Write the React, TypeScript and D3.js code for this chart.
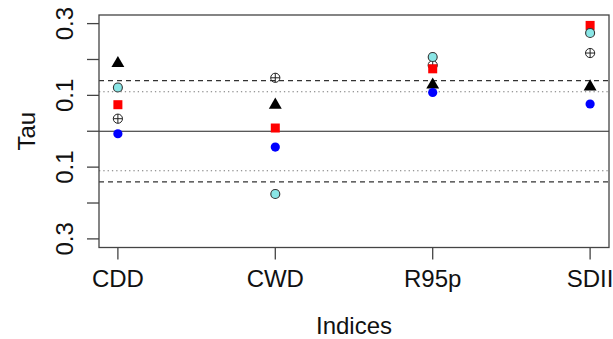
import React from "react";
import * as d3 from "d3";

const categories = ["CDD", "CWD", "R95p", "SDII"];
// series values (Tau) per category
const blueSeries = [-0.007, -0.044, 0.108, 0.076];
const cyanSeries = [0.122, -0.175, 0.207, 0.274];
const redSeries = [0.074, 0.009, 0.174, 0.295];
const crossSeries = [0.035, 0.149, 0.184, 0.218];
const triangleSeries = [0.192, 0.076, 0.132, 0.127];

const yTicks = [-0.3, -0.2, -0.1, 0, 0.1, 0.2, 0.3];
const yLabelTicks = [-0.3, -0.1, 0.1, 0.3];
const dashedLevels = [0.141, -0.141];
const dottedLevels = [0.11, -0.11];

const W = 613;
const H = 339;
const L = 99, R = 609, T = 15, B = 247.5;
const FONT = "'Liberation Sans', Arial, Helvetica, sans-serif";
const FS = 24;

export default function App() {
  const x = d3.scaleLinear().domain([0.88, 4.12]).range([L, R]);
  const y = d3.scaleLinear().domain([-0.324, 0.324]).range([B, T]);
  const tri = d3.symbol().type(d3.symbolTriangle).size(72)();
  const fmt = (v: number) => Math.abs(v).toFixed(1);

  return (
    <svg width={W} height={H} style={{ position: "absolute", left: 0, top: 0, background: "#ffffff" }}>
      <rect x={0} y={0} width={W} height={H} fill="#ffffff" />
      {/* reference lines */}
      <line x1={L} x2={R} y1={y(0)} y2={y(0)} stroke="#222" strokeWidth={1.2} />
      {dashedLevels.map((v, i) => (
        <line key={"d" + i} x1={L} x2={R} y1={y(v)} y2={y(v)} stroke="#333" strokeWidth={1.2} strokeDasharray="5,4" />
      ))}
      {dottedLevels.map((v, i) => (
        <line key={"o" + i} x1={L} x2={R} y1={y(v)} y2={y(v)} stroke="#777" strokeWidth={1.1} strokeDasharray="1.3,3" />
      ))}
      {/* box */}
      <rect x={L} y={T} width={R - L} height={B - T} fill="none" stroke="#444" strokeWidth={1.3} />
      {/* y ticks */}
      {yTicks.map((v) => (
        <line key={"yt" + v} x1={L - 12} x2={L} y1={y(v)} y2={y(v)} stroke="#444" strokeWidth={1.3} />
      ))}
      {yLabelTicks.map((v) => (
        <text key={"yl" + v} transform={`translate(73,${y(v)}) rotate(-90)`} textAnchor="middle"
          fontFamily={FONT} fontSize={FS} fill="#111">{fmt(v)}</text>
      ))}
      {/* x ticks */}
      {categories.map((c, i) => (
        <g key={c}>
          <line x1={x(i + 1)} x2={x(i + 1)} y1={B} y2={B + 12} stroke="#444" strokeWidth={1.3} />
          <text x={x(i + 1)} y={287} textAnchor="middle" fontFamily={FONT} fontSize={FS} fill="#111">{c}</text>
        </g>
      ))}
      <text x={(L + R) / 2} y={334} textAnchor="middle" fontFamily={FONT} fontSize={FS} fill="#111">Indices</text>
      <text transform={`translate(35,${y(0)}) rotate(-90)`} textAnchor="middle" fontFamily={FONT} fontSize={FS} fill="#111">Tau</text>
      {/* markers */}
      {triangleSeries.map((v, i) => (
        <path key={"t" + i} d={tri} transform={`translate(${x(i + 1)},${y(v) + 1})`} fill="#000" />
      ))}
      {crossSeries.map((v, i) => (
        <g key={"c" + i} transform={`translate(${x(i + 1)},${y(v)})`} stroke="#222" strokeWidth={1} fill="none">
          <circle r={4.6} />
          <line x1={-4.6} x2={4.6} y1={0} y2={0} />
          <line x1={0} x2={0} y1={-4.6} y2={4.6} />
        </g>
      ))}
      {redSeries.map((v, i) => (
        <rect key={"r" + i} x={x(i + 1) - 4.5} y={y(v) - 4.5} width={9} height={9} fill="#ff0000" />
      ))}
      {cyanSeries.map((v, i) => (
        <circle key={"cy" + i} cx={x(i + 1)} cy={y(v)} r={4.5} fill="#8ae6e6" stroke="#333" strokeWidth={1.1} />
      ))}
      {blueSeries.map((v, i) => (
        <circle key={"b" + i} cx={x(i + 1)} cy={y(v)} r={4.6} fill="#0000ff" />
      ))}
    </svg>
  );
}
